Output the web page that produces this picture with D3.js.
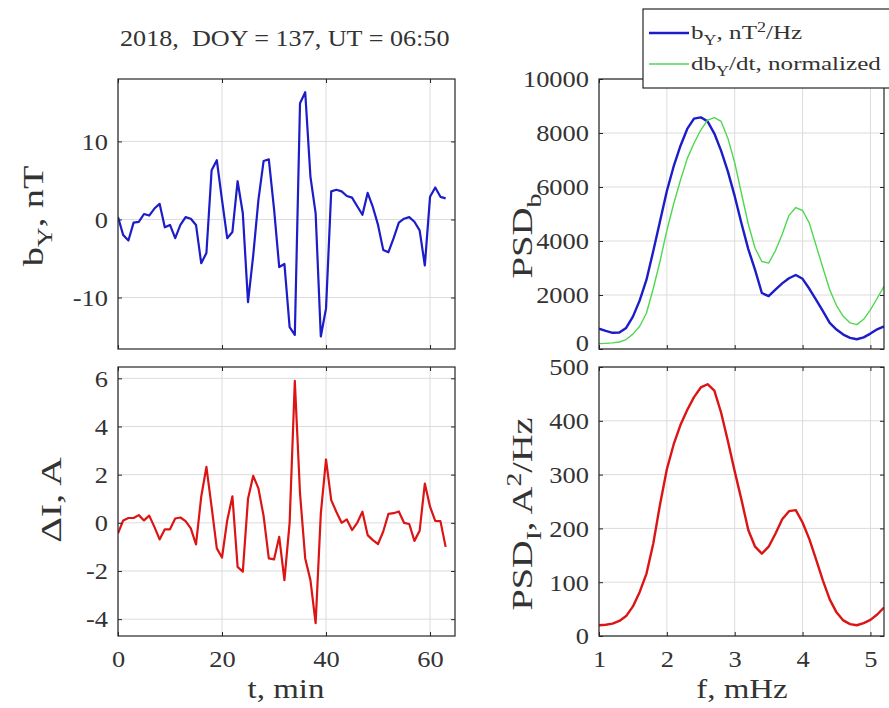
<!DOCTYPE html>
<html>
<head>
<meta charset="utf-8">
<script src="https://cdn.jsdelivr.net/npm/d3@7"></script>
<style>
  body { margin: 0; background: #fff; }
  svg { display: block; font-family: "Liberation Serif", "Times New Roman", serif; }
</style>
</head>
<body>
<svg id="chart" width="889" height="708"></svg>
<script>
// time axis, minutes
const minutes = [0,1,2,3,4,5,6,7,8,9,10,11,12,13,14,15,16,17,18,19,20,21,22,23,24,25,26,27,28,29,30,31,
                 32,33,34,35,36,37,38,39,40,41,42,43,44,45,46,47,48,49,50,51,52,53,54,55,56,57,58,59,60,61,62,63];

// b_Y, nT
const bY = [0.3,-2.0,-2.7,-0.4,-0.3,0.7,0.5,1.4,2.0,-1.0,-0.7,-2.4,-0.7,0.3,0.1,-0.7,-5.6,-4.3,6.3,7.6,2.5,-2.4,
            -1.6,4.9,0.8,-10.6,-4.6,2.5,7.5,7.7,1.4,-6.1,-5.7,-13.8,-14.8,14.9,16.3,5.5,0.8,-15.0,-11.4,3.6,3.8,
            3.6,3.0,2.8,1.7,0.6,3.4,1.6,-0.7,-3.9,-4.2,-2.4,-0.4,0.1,0.3,-0.3,-1.4,-5.9,2.9,4.1,2.9,2.7];

// delta I, A
const dI = [-0.44,0.1,0.2,0.2,0.32,0.1,0.3,-0.17,-0.69,-0.27,-0.27,0.18,0.22,0.07,-0.23,-0.9,1.08,2.32,0.66,-1.06,
            -1.44,0.1,1.1,-1.83,-2.03,1.0,1.95,1.43,0.28,-1.48,-1.52,-0.58,-2.38,0.0,5.89,1.22,-1.48,-2.38,-4.17,0.39,
            2.63,0.94,0.45,0.0,0.14,-0.3,0.0,0.46,-0.51,-0.72,-0.88,-0.36,0.37,0.4,0.47,0.0,-0.05,-0.75,-0.33,1.63,
            0.67,0.08,0.07,-1.0];

// frequency, mHz
const freqs = [1.0,1.1,1.2,1.3,1.4,1.5,1.6,1.7,1.8,1.9,2.0,2.1,2.2,2.3,2.4,2.5,2.6,2.7,2.8,2.9,3.0,3.1,
               3.2,3.3,3.4,3.5,3.6,3.7,3.8,3.9,4.0,4.1,4.2,4.3,4.4,4.5,4.6,4.7,4.8,4.9,5.0,5.1,5.2];

// PSD of b_Y, nT^2/Hz
const psdB = [750,670,600,610,780,1200,1800,2565,3630,4740,5850,6760,7520,8150,8530,8580,8430,7980,7340,6570,5660,
              4650,3700,2930,2073,1960,2200,2430,2620,2740,2600,2230,1820,1400,967,720,535,413,360,430,570,730,840];

// PSD of db_Y/dt, normalized
const psdDb = [200,210,225,260,350,550,841,1335,2240,3260,4390,5370,6250,7050,7620,8110,8480,8570,8430,7800,6900,
               5750,4630,3730,3240,3180,3640,4250,4950,5240,5130,4660,3830,3000,2196,1610,1210,967,904,1100,1450,1880,2317];

// PSD of delta I, A^2/Hz
const psdI = [20,21,23,28,37,55,82,116,172,245,310,356,392,420,444,462,468,456,415,362,306,253,197,166,153,166,190,
              217,232,234,211,180,142,103,68,44,29,22,20,24,30,40,53];

const tTicks = [0, 20, 40, 60];
const fTicks = [1, 2, 3, 4, 5];
const bTicks = [-10, 0, 10];
const iTicks = [-4, -2, 0, 2, 4, 6];
const psdBTicks = [0, 2000, 4000, 6000, 8000, 10000];
const psdITicks = [0, 100, 200, 300, 400, 500];

const SX = 1.15;   // glyphs in the source are a little wider than Times
const BLUE = "#1c1cc8", GREEN = "#4fd84f", RED = "#dc1414";
const INK = "#333";
const svg = d3.select("#chart");

// text with optional sub/superscript parts: [["b"],["Y","sub"],[", nT"]]
function richText(g, parts, size) {
  const t = g.append("text").attr("font-size", size).attr("fill", INK)
    .attr("xml:space", "preserve");
  let shift = 0;
  parts.forEach(([s, kind]) => {
    const target = kind === "sub" ? size * 0.3 : kind === "sup" ? -size * 0.38 : 0;
    const ts = t.append("tspan").text(s).attr("dy", target - shift);
    if (kind) ts.attr("font-size", size * 0.72);
    shift = target;
  });
  return t;
}

function panel(o) {
  const x = d3.scaleLinear().domain(o.xd).range([o.x0, o.x1]);
  const y = d3.scaleLinear().domain(o.yd).range([o.y1, o.y0]);
  const g = svg.append("g");

  g.append("g").selectAll("line").data(o.xt).join("line")
    .attr("x1", d => x(d)).attr("x2", d => x(d)).attr("y1", o.y0).attr("y2", o.y1)
    .attr("stroke", "#dcdcdc").attr("stroke-width", 1);
  g.append("g").selectAll("line").data(o.yt).join("line")
    .attr("y1", d => y(d)).attr("y2", d => y(d)).attr("x1", o.x0).attr("x2", o.x1)
    .attr("stroke", "#dcdcdc").attr("stroke-width", 1);

  const clipId = "clip" + o.x0 + "_" + o.y0;
  svg.append("clipPath").attr("id", clipId).append("rect")
    .attr("x", o.x0).attr("y", o.y0).attr("width", o.x1 - o.x0).attr("height", o.y1 - o.y0);

  o.series.forEach(s => {
    g.append("path")
      .datum(s.values)
      .attr("clip-path", `url(#${clipId})`)
      .attr("fill", "none")
      .attr("stroke", s.color)
      .attr("stroke-width", s.width)
      .attr("stroke-linejoin", "round")
      .attr("d", d3.line().x((d, i) => x(s.xs[i])).y(d => y(d)));
  });

  const fmt = d => String(d);
  const left = g.append("g").attr("transform", `translate(${o.x0},0)`)
    .call(d3.axisLeft(y).tickValues(o.yt).tickSize(-4).tickFormat(fmt));
  const bottom = g.append("g").attr("transform", `translate(0,${o.y1})`)
    .call(d3.axisBottom(x).tickValues(o.xt).tickSize(-4).tickFormat(o.xLabels ? fmt : ""));
  const right = g.append("g").attr("transform", `translate(${o.x1},0)`)
    .call(d3.axisRight(y).tickValues(o.yt).tickSize(-4).tickFormat(""));
  const top = g.append("g").attr("transform", `translate(0,${o.y0})`)
    .call(d3.axisTop(x).tickValues(o.xt).tickSize(-4).tickFormat(""));

  [left, bottom, right, top].forEach(a => a.attr("font-family", null).attr("font-size", null));
  g.selectAll(".domain").remove();
  g.selectAll(".tick line").attr("stroke", "#262626");
  left.selectAll("text")
    .attr("font-size", 23).attr("fill", INK)
    .attr("x", -10 / SX).attr("dy", d => (o.liftZero && d === 0) ? "0.08em" : "0.34em")
    .attr("transform", `scale(${SX},1)`);
  bottom.selectAll("text")
    .attr("font-size", 23).attr("fill", INK)
    .attr("y", 15).attr("dy", "0.71em")
    .attr("transform", `scale(${SX},1)`);

  g.append("rect")
    .attr("x", o.x0).attr("y", o.y0).attr("width", o.x1 - o.x0).attr("height", o.y1 - o.y0)
    .attr("fill", "none").attr("stroke", "#262626").attr("stroke-width", 1.2);
}

panel({ x0: 118, x1: 455, y0: 79, y1: 349, xd: [0, 64.8], yd: [-16.6, 18], xt: tTicks, yt: bTicks, xLabels: false,
        series: [{ xs: minutes, values: bY, color: BLUE, width: 2.2 }] });
panel({ x0: 118, x1: 455, y0: 367, y1: 636, xd: [0, 64.8], yd: [-4.7, 6.47], xt: tTicks, yt: iTicks, xLabels: true,
        series: [{ xs: minutes, values: dI, color: RED, width: 2.2 }] });
panel({ x0: 599, x1: 884, y0: 79, y1: 349, xd: [1, 5.2], yd: [0, 10000], xt: fTicks, yt: psdBTicks, xLabels: false,
        liftZero: true,
        series: [{ xs: freqs, values: psdB, color: BLUE, width: 2.4 },
                 { xs: freqs, values: psdDb, color: GREEN, width: 1.4 }] });
panel({ x0: 599, x1: 884, y0: 367, y1: 636, xd: [1, 5.2], yd: [0, 500], xt: fTicks, yt: psdITicks, xLabels: true,
        series: [{ xs: freqs, values: psdI, color: RED, width: 2.4 }] });

// title
const title = svg.append("g").attr("transform", "translate(120,46) scale(1.09,1)");
richText(title, [["2018,  DOY = 137, UT = 06:50"]], 24);

// axis titles
function axisTitle(x, y, parts, rotate, size, sx) {
  const g = svg.append("g").attr("transform",
    `translate(${x},${y})` + (rotate ? " rotate(-90)" : "") + ` scale(${sx},1)`);
  richText(g, parts, size).attr("text-anchor", "middle");
}
axisTitle(286, 698, [["t, min"]], false, 27, 1.22);
axisTitle(742, 698, [["f, mHz"]], false, 27, 1.22);
axisTitle(43, 216, [["b"], ["Y", "sub"], [", nT"]], true, 29, 1.32);
axisTitle(61, 500, [["\u0394I, A"]], true, 29, 1.38);
axisTitle(532, 236, [["PSD"], ["b", "sub"]], true, 29, 1.34);
axisTitle(532, 514, [["PSD"], ["I", "sub"], [", A"], ["2", "sup"], ["/Hz"]], true, 29, 1.32);

// legend
const leg = svg.append("g");
leg.append("rect").attr("x", 643).attr("y", 9).attr("width", 260).attr("height", 79)
  .attr("fill", "#fff").attr("stroke", "#262626").attr("stroke-width", 1.2);
const legItems = [
  { color: BLUE, width: 2.4, parts: [["b"], ["Y", "sub"], [", nT"], ["2", "sup"], ["/Hz"]] },
  { color: GREEN, width: 1.4, parts: [["db"], ["Y", "sub"], ["/dt, normalized"]] }
];
legItems.forEach((d, i) => {
  const cy = 33 + i * 31;
  leg.append("line").attr("x1", 649).attr("x2", 689).attr("y1", cy).attr("y2", cy)
    .attr("stroke", d.color).attr("stroke-width", d.width);
  const tg = leg.append("g").attr("transform", `translate(691,${cy + 6}) scale(1.32,1)`);
  richText(tg, d.parts, 19);
});
</script>
</body>
</html>
